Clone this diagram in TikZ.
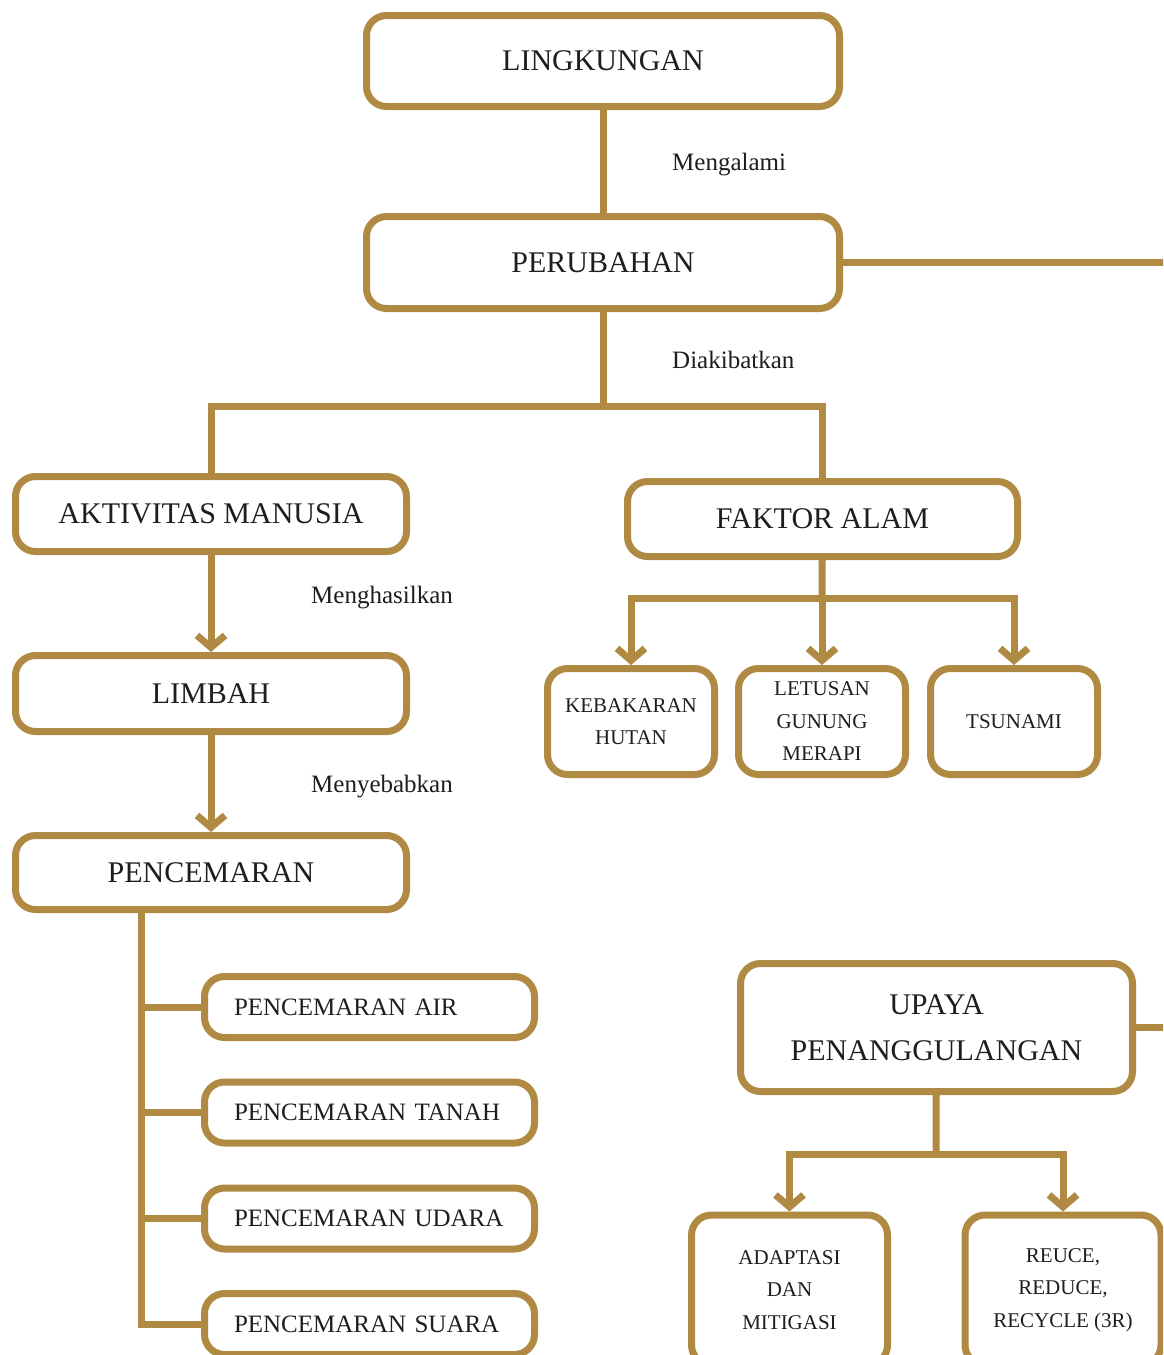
\documentclass[tikz,border=0pt]{standalone}
\usepackage{fontspec}
\setmainfont{Liberation Serif}
\usetikzlibrary{arrows.meta}
\definecolor{gold}{RGB}{176,138,66}
\definecolor{ink}{RGB}{30,30,30}
\begin{document}
\begin{tikzpicture}[x=1pt,y=-1pt,
  box/.style={draw=gold, line width=7pt, rounded corners=20pt, fill=white, text=ink, align=center, inner sep=0pt},
  big/.style={box, font=\fontsize{30}{46}\selectfont},
  small/.style={box, font=\fontsize{21}{32.5}\selectfont},
  sub/.style={box, font=\fontsize{25}{30}\selectfont, align=left, text width=271pt, inner xsep=29.5pt, minimum height=61pt},
  lbl/.style={font=\fontsize{25}{30}\selectfont, text=ink, anchor=west, inner sep=0pt},
  conn/.style={draw=gold, line width=7pt},
  arr/.style={conn, -{Straight Barb[length=12pt,width=28pt]}}]
\useasboundingbox (0,0) rectangle (1163,1355);
\clip (0,0) rectangle (1163,1355);
\fill[white] (0,0) rectangle (1163,1355);

% nodes
\node[big, minimum width=473pt, minimum height=91pt] (ling) at (603,61) {LINGKUNGAN};
\node[big, minimum width=473pt, minimum height=92pt] (peru) at (603,262.5) {PERUBAHAN};
\node[big, minimum width=391pt, minimum height=75pt] (akt) at (211,514) {AKTIVITAS MANUSIA};
\node[big, minimum width=390pt, minimum height=75pt] (fak) at (822.5,519) {FAKTOR ALAM};
\node[big, minimum width=391pt, minimum height=76pt] (lim) at (211,693.5) {LIMBAH};
\node[big, minimum width=391pt, minimum height=74pt] (pen) at (211,872.5) {PENCEMARAN};

\node[sub] (air) at (369.5,1007) {PENCEMARAN AIR};
\node[sub] (tanah) at (369.5,1112.5) {PENCEMARAN TANAH};
\node[sub] (udara) at (369.5,1218.5) {PENCEMARAN UDARA};
\node[sub] (suara) at (369.5,1324) {PENCEMARAN SUARA};

\node[small, minimum width=167pt, minimum height=106pt] (keb) at (631,721.5) {KEBAKARAN\\HUTAN};
\node[small, minimum width=167pt, minimum height=106pt] (let) at (822,721.5) {LETUSAN\\GUNUNG\\MERAPI};
\node[small, minimum width=167pt, minimum height=106pt] (tsu) at (1014,721.5) {TSUNAMI};

\node[big, minimum width=392pt, minimum height=128pt] (upaya) at (936.5,1027.5) {UPAYA\\PENANGGULANGAN};
\node[small, minimum width=196pt, minimum height=150pt] (adap) at (789.5,1290) {ADAPTASI\\DAN\\MITIGASI};
\node[small, minimum width=196pt, minimum height=150pt] (reuce) at (1063,1290) {REUCE,\\REDUCE,\\RECYCLE (3R)};

% labels
\node[lbl] (l1) at (672,165) {Mengalami};
\node[lbl] (l2) at (672,360) {Diakibatkan};
\node[lbl] (l3) at (311,598) {Menghasilkan};
\node[lbl] (l4) at (311,787) {Menyebabkan};

% junction coordinates
\coordinate (j1) at (603,406);
\coordinate (j2) at (822,598);
\coordinate (j3) at (936,1154);
\coordinate (t0) at (141,909);
\coordinate (redge) at (1167,0);

% connectors
\draw[conn] (ling) -- (peru);
\draw[conn] (peru.east) -- (peru.east -| redge);
\draw[conn] (peru) -- (j1);
\draw[conn] (j1) -| (akt.north);
\draw[conn] (j1) -| (fak.north);
\draw[arr] (akt) -- (lim);
\draw[arr] (lim) -- (pen);
\draw[conn] (t0) |- (suara.west);
\draw[conn] (t0 |- air.west) -- (air.west);
\draw[conn] (t0 |- tanah.west) -- (tanah.west);
\draw[conn] (t0 |- udara.west) -- (udara.west);
\draw[conn] (fak) -- (j2);
\draw[arr] (j2) -| (keb.north);
\draw[arr] (j2) -- (let.north);
\draw[arr] (j2) -| (tsu.north);
\draw[conn] (upaya.east) -- (upaya.east -| redge);
\draw[conn] (upaya) -- (j3);
\draw[arr] (j3) -| (adap.north);
\draw[arr] (j3) -| (reuce.north);
\end{tikzpicture}
\end{document}
